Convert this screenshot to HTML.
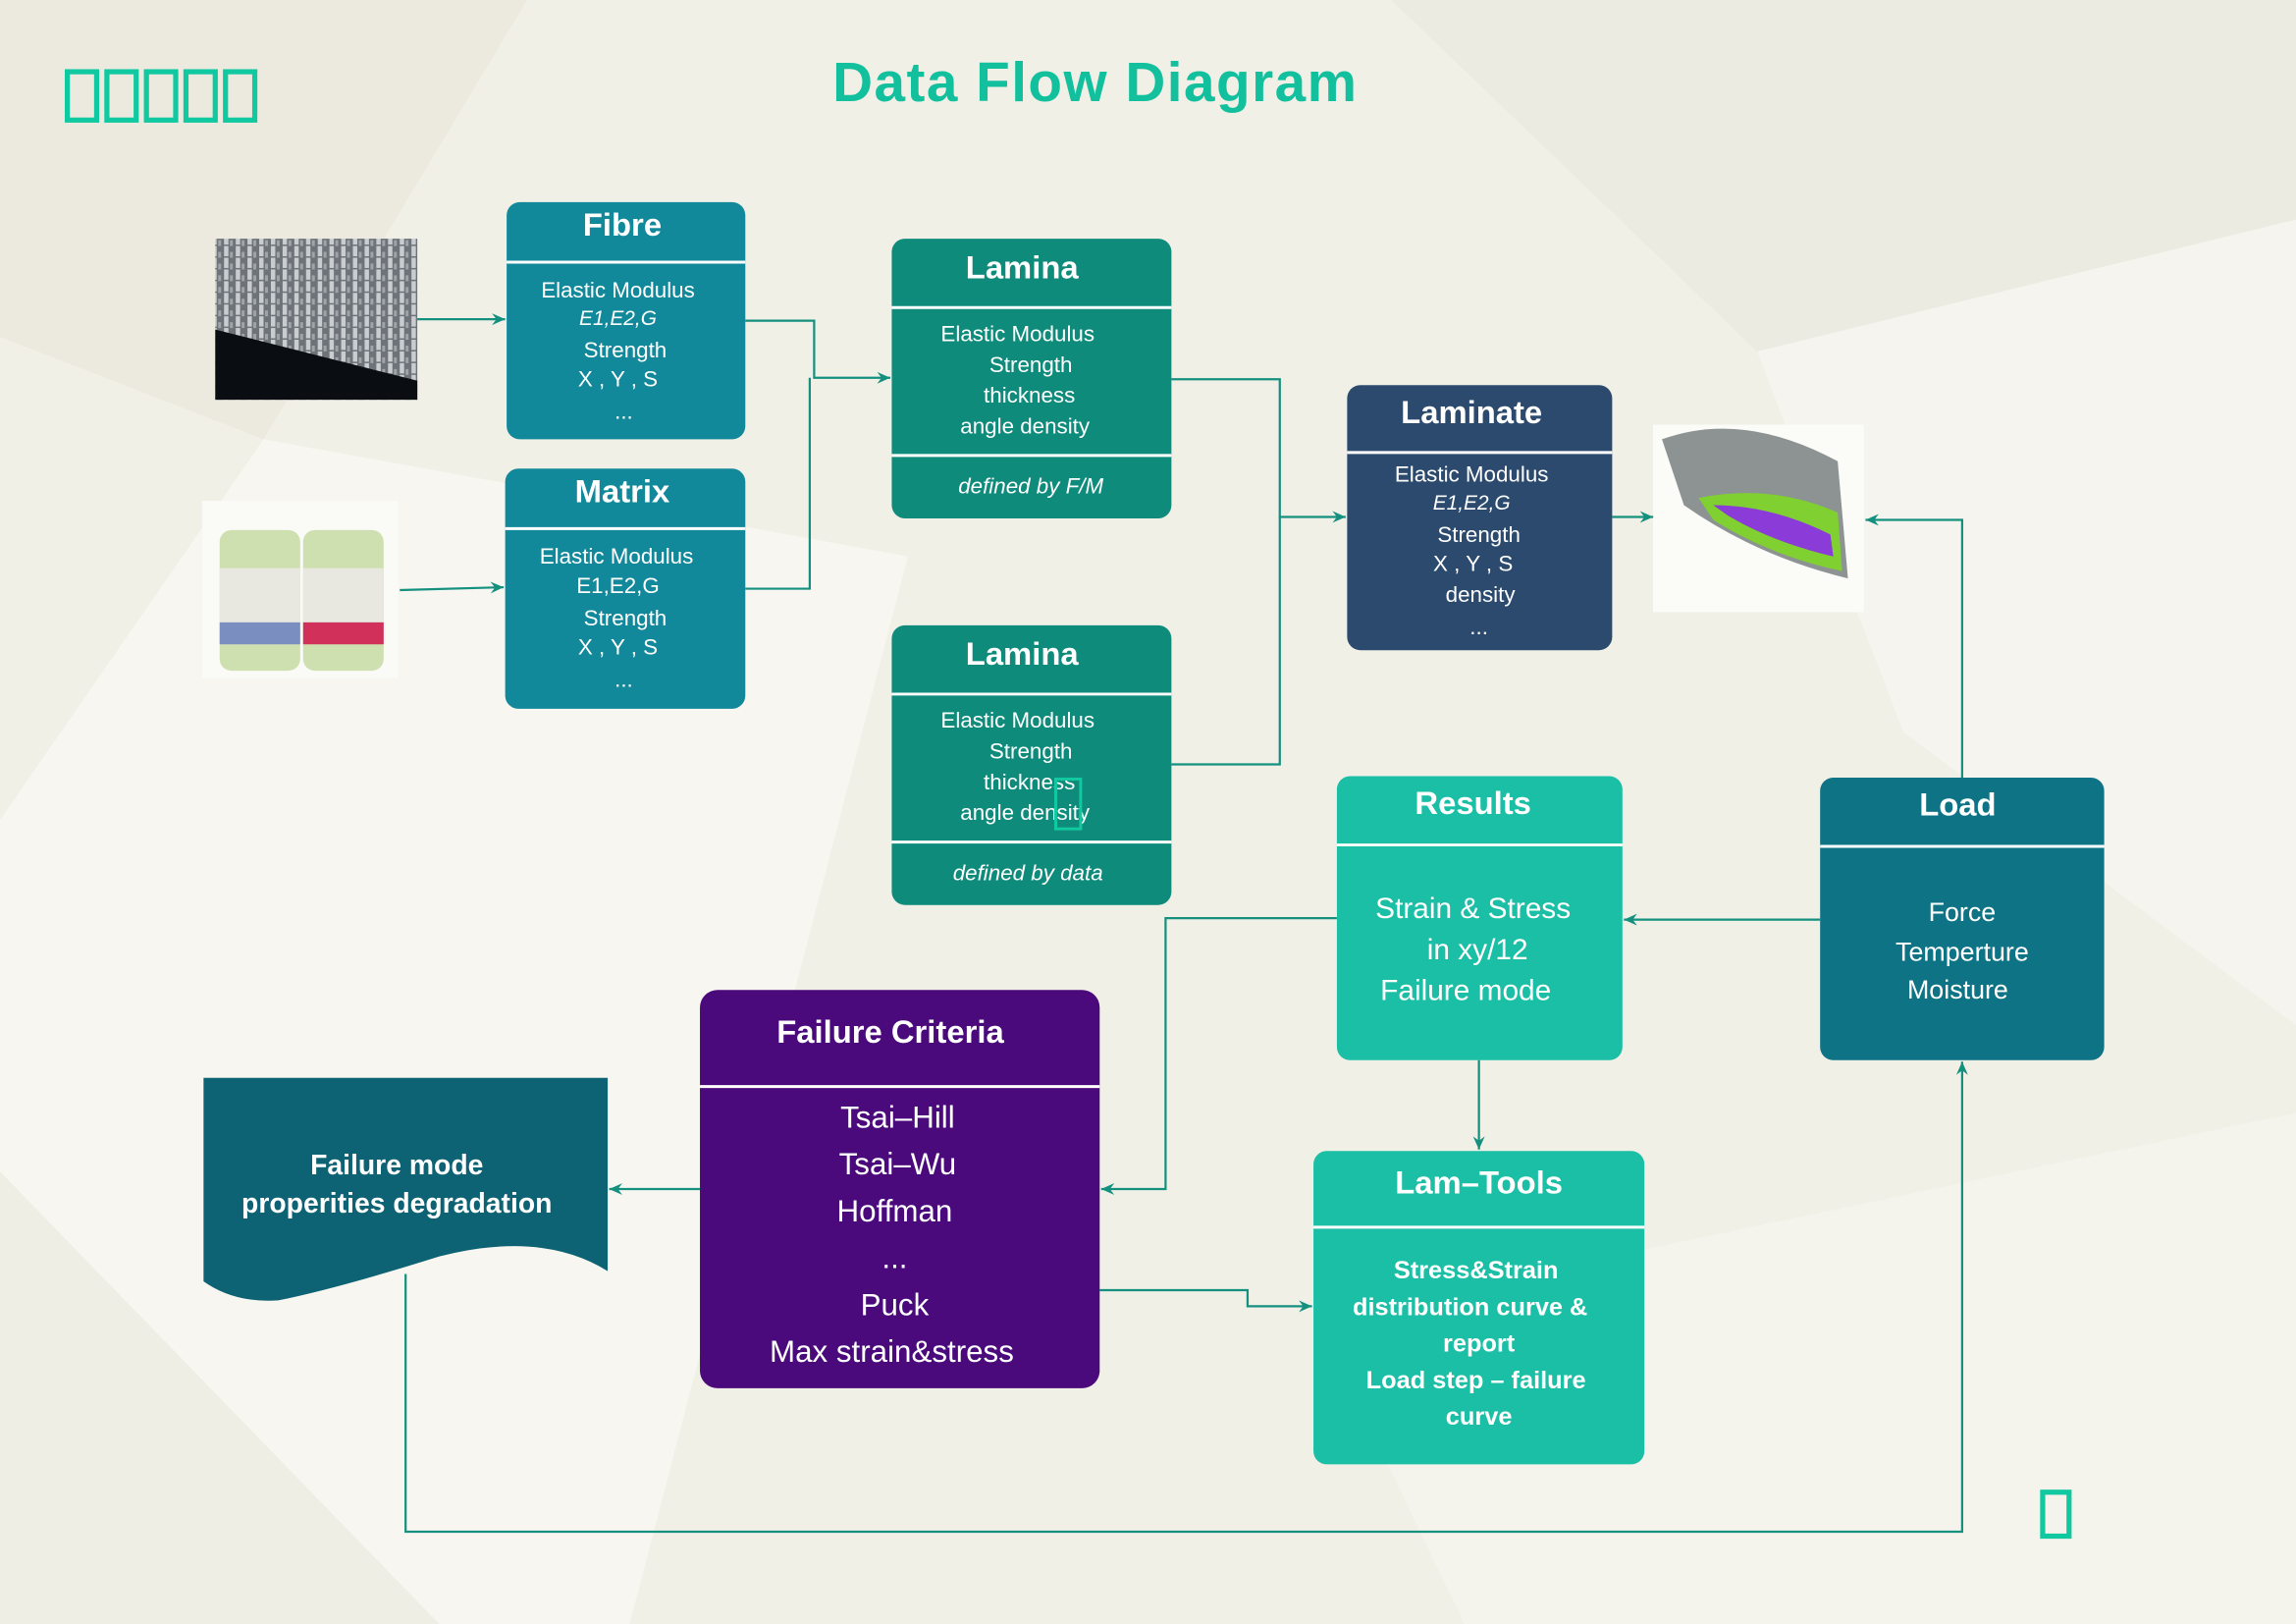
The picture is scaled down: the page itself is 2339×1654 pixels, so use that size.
<!DOCTYPE html>
<html><head><meta charset="utf-8"><style>
html,body{margin:0;padding:0;width:2339px;height:1654px;overflow:hidden;background:#f3f2ea}
svg{display:block}
text{font-family:"Liberation Sans",sans-serif}
</style></head><body>
<svg width="2339" height="1654" viewBox="0 0 1568 1109" preserveAspectRatio="none" xmlns="http://www.w3.org/2000/svg">
<defs>
<marker id="a" markerWidth="10" markerHeight="10" refX="9" refY="5" orient="auto" markerUnits="userSpaceOnUse"><path d="M0,1 L9,5 L0,9 L3,5 Z" fill="#14907f"/></marker>
<pattern id="weave" width="8" height="8" patternUnits="userSpaceOnUse"><rect width="8" height="8" fill="#6d7378"/><rect x="1" y="0" width="3" height="7" fill="#c9cdd0"/><rect x="5" y="4" width="2" height="4" fill="#9ea4a8"/></pattern>
</defs>
<rect width="1568" height="1109" fill="#f1f0e7"/>
<polygon points="0,0 360,0 180,300 0,230" fill="#eceadf"/>
<polygon points="180,300 620,380 430,1109 0,1109 0,560" fill="#f7f6f1"/>
<polygon points="950,0 1568,0 1568,150 1200,240" fill="#ecebe2"/>
<polygon points="1200,240 1568,150 1568,700 1300,500" fill="#f5f4ee"/>
<polygon points="0,800 300,1109 0,1109" fill="#efeee5"/>
<polygon points="900,900 1568,760 1568,1109 1000,1109" fill="#f4f3ec"/>

<g fill="none" stroke="#10c9a0" stroke-width="3.5">
<rect x="46" y="49" width="20" height="33"/><rect x="73" y="49" width="20" height="33"/><rect x="100" y="49" width="20" height="33"/><rect x="127" y="49" width="20" height="33"/><rect x="154" y="49" width="20" height="33"/>
<rect x="1395" y="1019" width="18" height="30"/>
</g>
<text x="748" y="69" font-size="38" font-weight="bold" fill="#13c09e" text-anchor="middle" letter-spacing="1">Data Flow Diagram</text>

<rect x="147" y="163" width="138" height="110" fill="url(#weave)"/>
<polygon points="147,225 285,260 285,273 147,273" fill="#0a0e12"/>
<rect x="138" y="342" width="134" height="121" fill="#fafaf6"/>
<rect x="150" y="362" width="55" height="96" rx="8" fill="#cfe0b0"/>
<rect x="207" y="362" width="55" height="96" rx="8" fill="#cfe0b0"/>
<rect x="150" y="388" width="55" height="45" fill="#e8e8e0"/><rect x="207" y="388" width="55" height="45" fill="#e8e8e0"/>
<rect x="150" y="425" width="55" height="15" fill="#7a8fc0"/><rect x="207" y="425" width="55" height="15" fill="#d0305a"/>
<rect x="1129" y="290" width="144" height="128" fill="#fbfbf8"/>
<path d="M1135,300 Q1190,280 1255,315 L1262,395 Q1200,380 1150,345 Z" fill="#8d9293"/>
<path d="M1160,340 Q1210,330 1255,350 L1258,390 Q1210,380 1170,355 Z" fill="#7fd030"/>
<path d="M1170,345 Q1210,345 1250,365 L1252,380 Q1210,370 1180,352 Z" fill="#8a3bd8"/>

<g fill="none" stroke="#14907f" stroke-width="1.5">
<path d="M285,218 H345" marker-end="url(#a)"/>
<path d="M273,403 L344,401" marker-end="url(#a)"/>
<path d="M509,219 H556 V258 H608" marker-end="url(#a)"/>
<path d="M509,402 H553 V258"/>
<path d="M800,259 H874 V353 H919" marker-end="url(#a)"/>
<path d="M800,522 H874 V353"/>
<path d="M1101,353 H1129" marker-end="url(#a)"/>
<path d="M1340,531 V355 H1274" marker-end="url(#a)"/>
<path d="M1243,628 H1109" marker-end="url(#a)"/>
<path d="M913,627 H796 V812 H752" marker-end="url(#a)"/>
<path d="M1010,724 V785" marker-end="url(#a)"/>
<path d="M478,812 H416" marker-end="url(#a)"/>
<path d="M751,881 H852 V892 H896" marker-end="url(#a)"/>
<path d="M277,870 V1046 H1340 V725" marker-end="url(#a)"/>
</g>

<g font-size="15" fill="#fff" text-anchor="middle">
<rect x="346" y="138" width="163" height="162" rx="9" fill="#12889b"/>
<line x1="346" y1="179" x2="509" y2="179" stroke="#fff" stroke-width="2"/>
<text x="425" y="161" font-size="22" font-weight="bold">Fibre</text>
<text x="422" y="203">Elastic Modulus</text><text x="422" y="222" font-style="italic" font-size="14">E1,E2,G</text>
<text x="427" y="244">Strength</text><text x="422" y="264">X , Y , S</text><text x="426" y="286">...</text>
<rect x="345" y="320" width="164" height="164" rx="9" fill="#12889b"/>
<line x1="345" y1="361" x2="509" y2="361" stroke="#fff" stroke-width="2"/>
<text x="425" y="343" font-size="22" font-weight="bold">Matrix</text>
<text x="421" y="385">Elastic Modulus</text><text x="422" y="405">E1,E2,G</text>
<text x="427" y="427">Strength</text><text x="422" y="447">X , Y , S</text><text x="426" y="469">...</text>
<rect x="609" y="163" width="191" height="191" rx="9" fill="#0e8b7b"/>
<line x1="609" y1="210" x2="800" y2="210" stroke="#fff" stroke-width="2"/>
<line x1="609" y1="311" x2="800" y2="311" stroke="#fff" stroke-width="2"/>
<text x="698" y="190" font-size="22" font-weight="bold">Lamina</text>
<text x="695" y="233">Elastic Modulus</text><text x="704" y="254">Strength</text><text x="703" y="275">thickness</text><text x="700" y="296">angle density</text>
<text x="704" y="337" font-style="italic">defined by F/M</text>
<rect x="609" y="427" width="191" height="191" rx="9" fill="#0e8b7b"/>
<line x1="609" y1="474" x2="800" y2="474" stroke="#fff" stroke-width="2"/>
<line x1="609" y1="575" x2="800" y2="575" stroke="#fff" stroke-width="2"/>
<text x="698" y="454" font-size="22" font-weight="bold">Lamina</text>
<text x="695" y="497">Elastic Modulus</text><text x="704" y="518">Strength</text><text x="703" y="539">thickness</text><text x="700" y="560">angle density</text>
<text x="702" y="601" font-style="italic">defined by data</text>
<rect x="721" y="532" width="17" height="34" fill="none" stroke="#10c9a0" stroke-width="2"/>
<rect x="920" y="263" width="181" height="181" rx="9" fill="#2b4a6e"/>
<line x1="920" y1="309" x2="1101" y2="309" stroke="#fff" stroke-width="2"/>
<text x="1005" y="289" font-size="22" font-weight="bold">Laminate</text>
<text x="1005" y="329">Elastic Modulus</text><text x="1005" y="348" font-style="italic" font-size="14">E1,E2,G</text>
<text x="1010" y="370">Strength</text><text x="1006" y="390">X , Y , S</text><text x="1011" y="411">density</text><text x="1010" y="433">...</text>
<rect x="913" y="530" width="195" height="194" rx="9" fill="#1bbfa6"/>
<line x1="913" y1="577" x2="1108" y2="577" stroke="#fff" stroke-width="2"/>
<text x="1006" y="556" font-size="22" font-weight="bold">Results</text>
<text x="1006" y="627" font-size="20">Strain &amp; Stress</text><text x="1009" y="655" font-size="20">in xy/12</text><text x="1001" y="683" font-size="20">Failure mode</text>
<rect x="1243" y="531" width="194" height="193" rx="9" fill="#0f7386"/>
<line x1="1243" y1="578" x2="1437" y2="578" stroke="#fff" stroke-width="2"/>
<text x="1337" y="557" font-size="22" font-weight="bold">Load</text>
<text x="1340" y="629" font-size="18">Force</text><text x="1340" y="656" font-size="18">Temperture</text><text x="1337" y="682" font-size="18">Moisture</text>
<rect x="478" y="676" width="273" height="272" rx="12" fill="#4b0a7b"/>
<line x1="478" y1="742" x2="751" y2="742" stroke="#fff" stroke-width="2"/>
<text x="608" y="712" font-size="22" font-weight="bold">Failure Criteria</text>
<g font-size="21"><text x="613" y="770">Tsai–Hill</text><text x="613" y="802">Tsai–Wu</text><text x="611" y="834">Hoffman</text><text x="611" y="866">...</text><text x="611" y="898">Puck</text><text x="609" y="930">Max strain&amp;stress</text></g>
<rect x="897" y="786" width="226" height="214" rx="9" fill="#1bbfa6"/>
<line x1="897" y1="838" x2="1123" y2="838" stroke="#fff" stroke-width="2"/>
<text x="1010" y="815" font-size="22" font-weight="bold">Lam–Tools</text>
<g font-size="17" font-weight="bold"><text x="1008" y="873">Stress&amp;Strain</text><text x="1004" y="898">distribution curve &amp;</text><text x="1010" y="923">report</text><text x="1008" y="948">Load step – failure</text><text x="1010" y="973">curve</text></g>
<path d="M139,736 H415 V868 Q370,840 300,858 Q230,880 190,888 Q160,890 139,875 Z" fill="#0d6273"/>
<text x="271" y="802" font-size="19" font-weight="bold">Failure mode</text>
<text x="271" y="828" font-size="19" font-weight="bold">properities degradation</text>
</g>
</svg>
</body></html>
